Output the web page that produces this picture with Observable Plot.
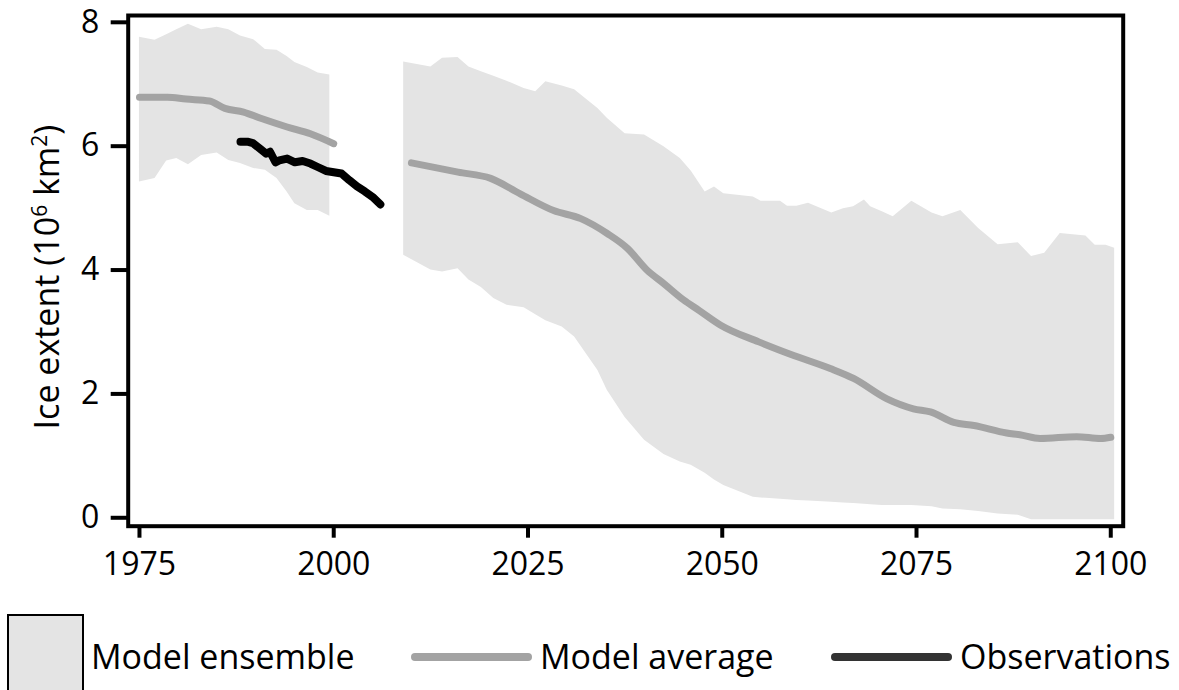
<!DOCTYPE html>
<html>
<head>
<meta charset="utf-8">
<script src="https://cdn.jsdelivr.net/npm/d3@7"></script>
<script src="https://cdn.jsdelivr.net/npm/@observablehq/plot@0.6"></script>
<style>
  html, body { margin: 0; padding: 0; background: white; }
  #chart { width: 1179px; }
  svg text { font-family: "Open Sans", sans-serif; }
</style>
</head>
<body>
<div id="chart"></div>
<script>
// ---- Data ----
// Model ensemble range, historical segment
const ensYears1 = [1975, 1977, 1978.5, 1979.8, 1981.3, 1983, 1985, 1986.5, 1988, 1989.7, 1991.2, 1992.7, 1994, 1995, 1996.6, 1998, 1999.5];
const ensHigh1  = [7.76, 7.71, 7.80, 7.88, 7.97, 7.88, 7.92, 7.88, 7.78, 7.72, 7.56, 7.55, 7.45, 7.35, 7.27, 7.18, 7.15];
const ensLow1   = [5.42, 5.48, 5.76, 5.80, 5.70, 5.85, 5.89, 5.77, 5.72, 5.64, 5.61, 5.48, 5.26, 5.07, 4.96, 4.96, 4.87];

// Model ensemble range, projection segment
const ensYears2 = [2009, 2012.5, 2014, 2016, 2017.4, 2019, 2020.6, 2022.3, 2024.5, 2026, 2027.3, 2029.4, 2031, 2034, 2035.2, 2037.5, 2040, 2042.5, 2044.6, 2046, 2047.8, 2049, 2050.2, 2054, 2055, 2057.5, 2058.4, 2059.6, 2061.1, 2064.1, 2065.6, 2066.9, 2068.3, 2069.1, 2070.6, 2072, 2074.4, 2077, 2078.4, 2080.7, 2083, 2085.5, 2088.1, 2089.8, 2091.5, 2093.5, 2096.8, 2098, 2099.4, 2100.5];
const ensHigh2  = [7.36, 7.28, 7.42, 7.43, 7.28, 7.20, 7.13, 7.05, 6.93, 6.88, 7.04, 6.97, 6.91, 6.61, 6.45, 6.20, 6.18, 5.99, 5.80, 5.60, 5.26, 5.34, 5.23, 5.18, 5.11, 5.11, 5.03, 5.03, 5.08, 4.92, 4.99, 5.02, 5.13, 5.02, 4.94, 4.86, 5.11, 4.92, 4.86, 4.96, 4.67, 4.41, 4.44, 4.22, 4.27, 4.59, 4.55, 4.40, 4.40, 4.35];
const ensLow2   = [4.24, 4.00, 3.97, 4.02, 3.84, 3.72, 3.54, 3.43, 3.39, 3.28, 3.18, 3.08, 2.92, 2.38, 2.06, 1.62, 1.25, 1.02, 0.90, 0.85, 0.72, 0.61, 0.52, 0.33, 0.32, 0.30, 0.29, 0.28, 0.27, 0.25, 0.24, 0.23, 0.22, 0.21, 0.20, 0.20, 0.20, 0.18, 0.14, 0.13, 0.10, 0.06, 0.04, -0.03, -0.03, -0.03, -0.03, -0.03, -0.03, -0.03];

// Model average
const avgYears1 = [1975, 1978.6, 1981, 1984, 1986, 1988.4, 1990.6, 1994, 1997, 2000];
const avgVals1  = [6.79, 6.79, 6.76, 6.73, 6.61, 6.55, 6.45, 6.31, 6.20, 6.04];
const avgYears2 = [2010, 2016, 2020.2, 2024, 2028.3, 2031.8, 2035.2, 2037.8, 2040.3, 2042.5, 2045, 2047, 2049.8, 2054.7, 2059.2, 2063.9, 2066.9, 2071.2, 2074.6, 2076.8, 2079.8, 2082.4, 2086.6, 2088.3, 2090.9, 2095.6, 2098.7, 2100];
const avgVals2  = [5.73, 5.58, 5.48, 5.23, 4.96, 4.83, 4.59, 4.35, 4.00, 3.78, 3.52, 3.35, 3.11, 2.84, 2.62, 2.41, 2.25, 1.92, 1.76, 1.71, 1.54, 1.49, 1.37, 1.34, 1.28, 1.31, 1.28, 1.30];

// Observations
const obsYears = [1988, 1989, 1989.6, 1990.5, 1991.3, 1991.8, 1992.5, 1993, 1994, 1995, 1996, 1997, 1998, 1999, 2000, 2001, 2002, 2003, 2004, 2005, 2006];
const obsVals  = [6.07, 6.07, 6.05, 5.96, 5.88, 5.91, 5.74, 5.77, 5.80, 5.74, 5.76, 5.72, 5.66, 5.60, 5.58, 5.56, 5.45, 5.35, 5.27, 5.18, 5.06];

const xTicks = [1975, 2000, 2025, 2050, 2075, 2100];
const yTicks = [0, 2, 4, 6, 8];
const yLabelParts = ["Ice extent (10", "6", " km", "2", ")"];
const legendLabels = ["Model ensemble", "Model average", "Observations"];

// ---- Build tables ----
const zip2 = (xs, a, b) => xs.map((x, i) => ({x, lo: a[i], hi: b[i]}));
const zip = (xs, ys) => xs.map((x, i) => ({x, y: ys[i]}));
const ens1 = zip2(ensYears1, ensLow1, ensHigh1);
const ens2 = zip2(ensYears2, ensLow2, ensHigh2);
const avg1 = zip(avgYears1, avgVals1);
const avg2 = zip(avgYears2, avgVals2);
const obs = zip(obsYears, obsVals);

const BAND = "#e4e4e4", AVG = "#a3a3a3", OBS = "#000000";

const plot = Plot.plot({
  width: 1179,
  height: 600,
  marginLeft: 127.7,
  marginRight: 56.3,
  marginTop: 15,
  marginBottom: 74.3,
  style: {fontFamily: "'Open Sans', sans-serif", fontSize: "32px", color: "black", background: "white", overflow: "visible"},
  x: {domain: [1973.55, 2101.6]},
  y: {domain: [-0.136, 8.11]},
  marks: [
    Plot.areaY(ens1, {x: "x", y1: "lo", y2: "hi", fill: BAND}),
    Plot.areaY(ens2, {x: "x", y1: "lo", y2: "hi", fill: BAND}),
    Plot.line(avg1, {x: "x", y: "y", stroke: AVG, strokeWidth: 7, strokeLinecap: "round", strokeLinejoin: "round", curve: "monotone-x"}),
    Plot.line(avg2, {x: "x", y: "y", stroke: AVG, strokeWidth: 7, strokeLinecap: "round", strokeLinejoin: "round", curve: "monotone-x"}),
    Plot.line(obs, {x: "x", y: "y", stroke: OBS, strokeWidth: 8, strokeLinecap: "round", strokeLinejoin: "round"}),
    Plot.frame({stroke: "black", strokeWidth: 4}),
    Plot.axisY({ticks: yTicks, tickSize: 17, tickPadding: 12, strokeWidth: 4, label: null, fontSize: 32}),
    Plot.axisX({ticks: xTicks, tickSize: 12, tickPadding: 14, strokeWidth: 4, tickFormat: "d", label: null, fontSize: 32})
  ]
});

// y-axis title with superscripts
const svg = d3.select(plot);
const lab = svg.append("text")
  .attr("transform", "translate(47,277) rotate(-90)")
  .attr("text-anchor", "middle")
  .attr("dy", "0.35em")
  .attr("fill", "black")
  .style("font-size", "34px");
yLabelParts.forEach((p, i) => {
  const t = lab.append("tspan").text(p);
  if (i % 2 === 1) t.attr("font-size", "21px").attr("dy", "-12");
  else if (i > 0) t.attr("dy", "12");
});

document.getElementById("chart").appendChild(plot);

// ---- Legend (below the plot) ----
const leg = d3.select("#chart").append("svg")
  .attr("width", 1179).attr("height", 90)
  .style("display", "block");
leg.append("rect").attr("x", 8).attr("y", 15).attr("width", 75).attr("height", 90)
  .attr("fill", BAND).attr("stroke", "black").attr("stroke-width", 2);
const ty = 57;
leg.append("text").attr("x", 91).attr("y", ty).attr("dy", "0.35em").style("font-size", "34px").text(legendLabels[0]);
leg.append("line").attr("x1", 415).attr("x2", 528).attr("y1", ty).attr("y2", ty)
  .attr("stroke", AVG).attr("stroke-width", 8).attr("stroke-linecap", "round");
leg.append("text").attr("x", 540).attr("y", ty).attr("dy", "0.35em").style("font-size", "34px").text(legendLabels[1]);
leg.append("line").attr("x1", 835).attr("x2", 948).attr("y1", ty).attr("y2", ty)
  .attr("stroke", "#333333").attr("stroke-width", 8).attr("stroke-linecap", "round");
leg.append("text").attr("x", 960).attr("y", ty).attr("dy", "0.35em").style("font-size", "34px").text(legendLabels[2]);
</script>
</body>
</html>
